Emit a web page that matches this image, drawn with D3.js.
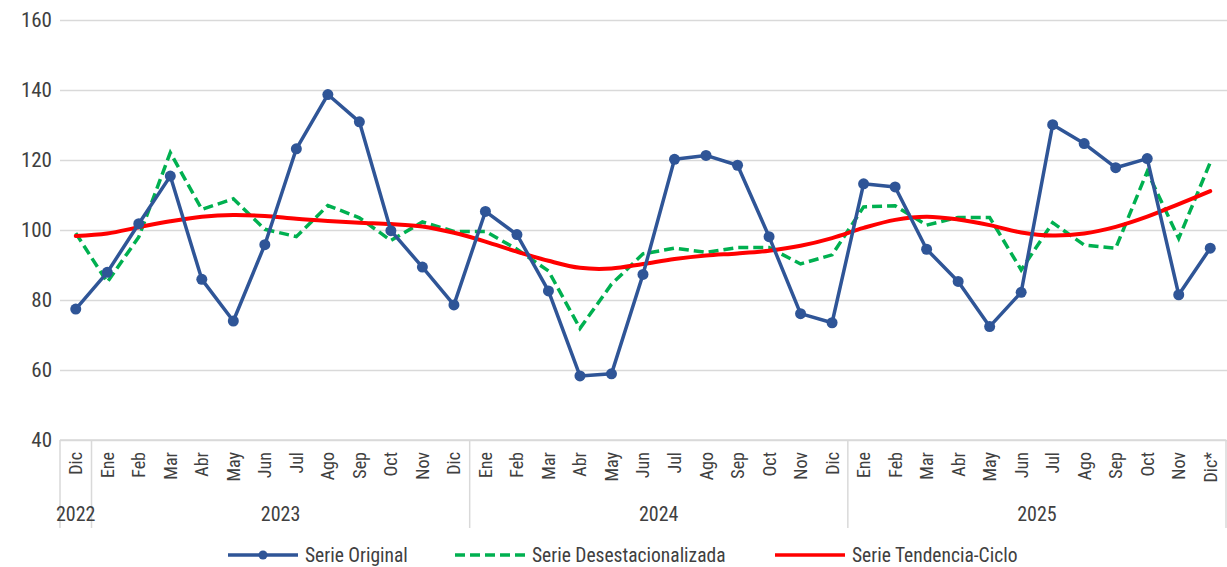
<!DOCTYPE html>
<html>
<head>
<meta charset="utf-8">
<script src="https://cdn.jsdelivr.net/npm/d3@7"></script>
<style>
  body { margin: 0; background: #fff; }
  svg text { font-family: "Roboto Condensed", "Liberation Sans Narrow", "DejaVu Sans Condensed", Roboto, sans-serif; font-stretch: condensed; fill: #404040; }
</style>
</head>
<body>
<div id="chart"></div>
<script>
var months = ["Dic",
  "Ene","Feb","Mar","Abr","May","Jun","Jul","Ago","Sep","Oct","Nov","Dic",
  "Ene","Feb","Mar","Abr","May","Jun","Jul","Ago","Sep","Oct","Nov","Dic",
  "Ene","Feb","Mar","Abr","May","Jun","Jul","Ago","Sep","Oct","Nov","Dic*"];

// year label, first and last month index of each group
var years = [
  {label: "2022", from: 0, to: 0},
  {label: "2023", from: 1, to: 12},
  {label: "2024", from: 13, to: 24},
  {label: "2025", from: 25, to: 36}
];

var serieOriginal = [77.4,
  87.9, 101.8, 115.4, 85.9, 74.0, 95.8, 123.2, 138.7, 130.9, 99.8, 89.4, 78.6,
  105.3, 98.7, 82.6, 58.3, 58.9, 87.3, 120.2, 121.3, 118.5, 98.1, 76.1, 73.5,
  113.2, 112.3, 94.5, 85.3, 72.4, 82.2, 130.1, 124.7, 117.8, 120.4, 81.5, 94.8];

var serieDesest = [99.1,
  85.1, 98.0, 122.1, 105.9, 108.9, 100.2, 98.1, 107.0, 103.5, 97.0, 102.3, 99.6,
  99.6, 94.5, 88.3, 71.9, 84.5, 93.2, 94.8, 93.6, 95.0, 95.0, 90.3, 92.9,
  106.6, 106.9, 101.4, 103.6, 103.6, 88.6, 102.1, 95.7, 94.8, 116.7, 97.6, 119.3];

var serieTendencia = [98.3,
  99.0, 100.8, 102.5, 103.8, 104.3, 104.0, 103.2, 102.6, 102.1, 101.7, 101.0, 99.2,
  96.7, 93.8, 91.2, 89.2, 89.0, 90.3, 91.7, 92.7, 93.3, 94.1, 95.5, 97.7,
  100.6, 102.9, 103.8, 103.0, 101.4, 99.3, 98.4, 99.0, 100.9, 103.8, 107.4, 111.1];

var yTicks = [40, 60, 80, 100, 120, 140, 160];

var legendItems = [
  {name: "Serie Original", color: "#2F5597", dash: null, marker: true, x: 228},
  {name: "Serie Desestacionalizada", color: "#00B050", dash: "10,5", marker: false, x: 455},
  {name: "Serie Tendencia-Ciclo", color: "#FF0000", dash: null, marker: false, x: 775}
];

var width = 1227,
    height = 567,
    plotLeft = 60,
    plotRight = 1226,
    plotTop = 20,
    plotBottom = 440,
    gridColor = "#D9D9D9";

var svg = d3.select("#chart").append("svg")
    .attr("width", width)
    .attr("height", height);

var x = d3.scaleBand()
    .domain(d3.range(months.length))
    .range([plotLeft, plotRight])
    .padding(0);

var y = d3.scaleLinear()
    .domain([40, 160])
    .range([plotBottom, plotTop]);

function cx(i) { return x(i) + x.bandwidth() / 2; }

// gridlines + y labels
var yAxis = svg.append("g")
    .attr("transform", "translate(" + plotLeft + ",0)")
    .call(d3.axisLeft(y).tickValues(yTicks).tickSize(-(width - plotLeft)).tickPadding(8).tickFormat(d3.format("d")));
yAxis.select(".domain").remove();
yAxis.selectAll(".tick line")
    .attr("stroke", gridColor)
    .attr("stroke-width", 1.5);
yAxis.selectAll(".tick text")
    .style("font-size", "21px")
    .style("fill", "#404040")
    .attr("font-family", null);

// bottom axis line
svg.append("line")
    .attr("x1", plotLeft).attr("x2", plotRight)
    .attr("y1", y(40)).attr("y2", y(40))
    .attr("stroke", gridColor)
    .attr("stroke-width", 1.5);

// year separators
var seps = [0].concat(years.map(function(d){ return d.to + 1; }));
svg.selectAll(".sep")
    .data(seps)
    .enter().append("line")
    .attr("class", "sep")
    .attr("x1", function(d){ return d >= months.length ? plotRight : x(d); })
    .attr("x2", function(d){ return d >= months.length ? plotRight : x(d); })
    .attr("y1", plotBottom)
    .attr("y2", 528)
    .attr("stroke", gridColor)
    .attr("stroke-width", 1.5);

// month labels
svg.selectAll(".month")
    .data(months)
    .enter().append("text")
    .attr("class", "month")
    .attr("transform", function(d, i){ return "translate(" + cx(i) + ",452) rotate(-90)"; })
    .attr("dy", "0.36em")
    .style("text-anchor", "end")
    .style("font-size", "18px")
    .text(function(d){ return d; });

// year labels
svg.selectAll(".year")
    .data(years)
    .enter().append("text")
    .attr("class", "year")
    .attr("x", function(d){ return (x(d.from) + x(d.to) + x.bandwidth()) / 2; })
    .attr("y", 514)
    .attr("dy", "0.36em")
    .style("text-anchor", "middle")
    .style("font-size", "20px")
    .text(function(d){ return d.label; });

// series
var straight = d3.line()
    .x(function(d, i){ return cx(i); })
    .y(function(d){ return y(d); });

var smooth = d3.line()
    .x(function(d, i){ return cx(i); })
    .y(function(d){ return y(d); })
    .curve(d3.curveCatmullRom.alpha(0.5));

svg.append("path")
    .attr("d", straight(serieDesest))
    .attr("fill", "none")
    .attr("stroke", "#00B050")
    .attr("stroke-width", 3.5)
    .attr("stroke-dasharray", "10,5");

svg.append("path")
    .attr("d", smooth(serieTendencia))
    .attr("fill", "none")
    .attr("stroke", "#FF0000")
    .attr("stroke-width", 4)
    .attr("stroke-linecap", "round");

svg.append("path")
    .attr("d", straight(serieOriginal))
    .attr("fill", "none")
    .attr("stroke", "#2F5597")
    .attr("stroke-width", 3.5)
    .attr("stroke-linejoin", "round");

svg.selectAll(".dot")
    .data(serieOriginal)
    .enter().append("circle")
    .attr("class", "dot")
    .attr("cx", function(d, i){ return cx(i); })
    .attr("cy", function(d){ return y(d); })
    .attr("r", 5.5)
    .attr("fill", "#2F5597");

// legend
var legend = svg.selectAll(".legend")
    .data(legendItems)
    .enter().append("g")
    .attr("class", "legend")
    .attr("transform", function(d){ return "translate(" + d.x + ",555)"; });

legend.append("line")
    .attr("x1", 0).attr("x2", 70)
    .attr("stroke", function(d){ return d.color; })
    .attr("stroke-width", 3.5)
    .attr("stroke-dasharray", function(d){ return d.dash; });

legend.filter(function(d){ return d.marker; })
    .append("circle")
    .attr("cx", 35)
    .attr("r", 4.5)
    .attr("fill", function(d){ return d.color; });

legend.append("text")
    .attr("x", 77)
    .attr("dy", "0.36em")
    .style("font-size", "19.5px")
    .text(function(d){ return d.name; });
</script>
</body>
</html>
